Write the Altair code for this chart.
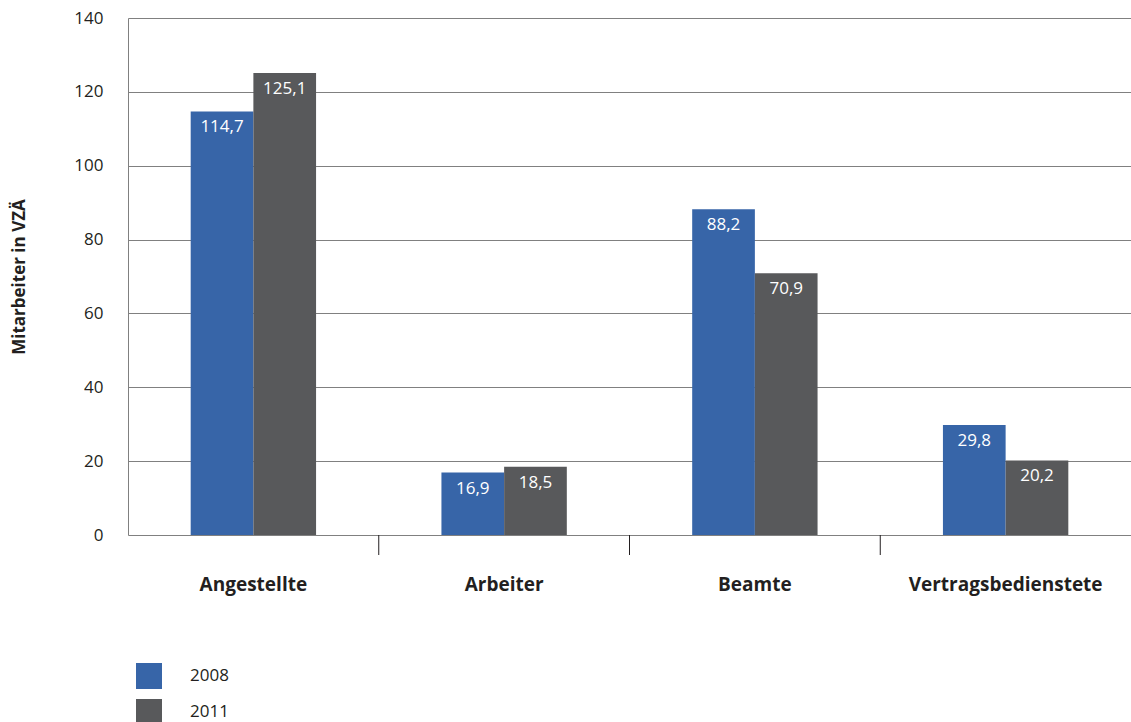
import altair as alt
import pandas as pd

categories = ["Angestellte", "Arbeiter", "Beamte", "Vertragsbedienstete"]
years = ["2008", "2011"]
values_2008 = [114.7, 16.9, 88.2, 29.8]
values_2011 = [125.1, 18.5, 70.9, 20.2]
y_ticks = [0, 20, 40, 60, 80, 100, 120, 140]
colors = ["#3765a8", "#58595b"]

rows = []
for i, c in enumerate(categories):
    for y, vals in zip(years, [values_2008, values_2011]):
        v = vals[i]
        rows.append({"cat": c, "year": y, "value": v,
                     "label": f"{v:.1f}".replace(".", ",")})
df = pd.DataFrame(rows)
sep_df = pd.DataFrame({"cat": categories[1:]})

W, H = 1003, 517
FONT = "Open Sans"
TXT = "#231f20"

x_enc = alt.X("cat:N", sort=categories,
              scale=alt.Scale(paddingInner=0, paddingOuter=0),
              axis=alt.Axis(title=None, ticks=False, domain=False, labelLimit=0,
                            labelFont=FONT, labelFontSize=19, labelFontWeight="bold",
                            labelColor=TXT, labelPadding=40, labelAngle=0))
xoff = alt.XOffset("year:N", sort=years,
                   scale=alt.Scale(paddingInner=0, paddingOuter=1))
y_enc = alt.Y("value:Q",
              scale=alt.Scale(domain=[0, 140], nice=False),
              axis=alt.Axis(title="Mitarbeiter in VZÄ", values=y_ticks,
                            ticks=False, grid=True, gridColor="#808080",
                            domainColor="#808080", labelFont=FONT,
                            labelFontSize=17, labelColor=TXT, labelPadding=25,
                            titleFont=FONT, titleFontSize=17, titleFontWeight="bold",
                            titleColor=TXT, titleX=-100, titleY=H / 2,
                            titleAngle=-90, titleBaseline="bottom"))

bars = alt.Chart(df).mark_bar().encode(
    x=x_enc, xOffset=xoff, y=y_enc,
    color=alt.Color("year:N", sort=years,
                    scale=alt.Scale(domain=years, range=colors),
                    legend=alt.Legend(title=None, orient="none", legendX=8, legendY=645,
                                      symbolType="square", symbolSize=676,
                                      symbolStrokeWidth=0, symbolOpacity=1,
                                      labelFont=FONT, labelFontSize=17, labelColor=TXT,
                                      labelOffset=28, rowPadding=10, padding=0)),
)

texts = alt.Chart(df).mark_text(color="white", font=FONT, fontSize=17,
                                baseline="middle", dy=16).encode(
    x=alt.X("cat:N", sort=categories), xOffset=alt.XOffset("year:N", sort=years),
    y="value:Q", text="label:N")

seps = alt.Chart(sep_df).mark_rule(color=TXT, strokeWidth=1).encode(
    x=alt.X("cat:N", sort=categories, bandPosition=0),
    y=alt.value(H), y2=alt.value(H + 20))

chart = alt.layer(bars, texts, seps).properties(
    width=W, height=H,
    autosize=alt.AutoSizeParams(type="none"),
    padding={"left": 128, "top": 18, "right": 0, "bottom": 187},
).configure_view(stroke=None).configure_axis(gridWidth=1)

chart.save("out.html", embed_options={"renderer": "svg", "actions": False})
